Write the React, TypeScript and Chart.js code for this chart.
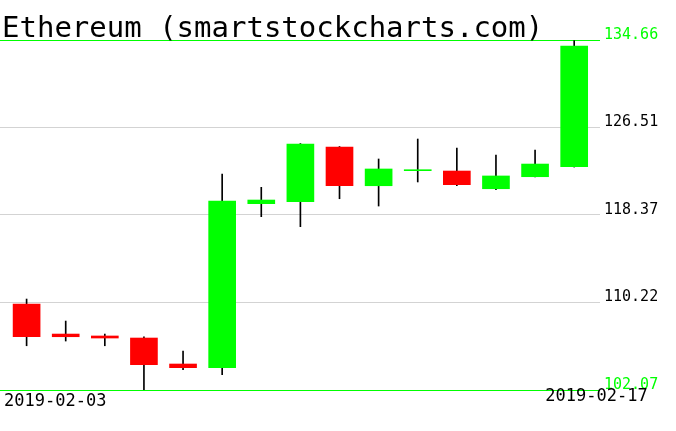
import React, { useEffect, useRef } from "react";
import { Chart, registerables } from "chart.js";

Chart.register(...registerables);

const TITLE = "Ethereum (smartstockcharts.com)";
const dates = [
  "2019-02-03", "2019-02-04", "2019-02-05", "2019-02-06", "2019-02-07",
  "2019-02-08", "2019-02-09", "2019-02-10", "2019-02-11", "2019-02-12",
  "2019-02-13", "2019-02-14", "2019-02-15", "2019-02-16", "2019-02-17",
];
const opens = [110.08, 107.28, 107.1, 106.91, 104.49, 104.15, 119.42, 119.6, 124.7, 121.09, 122.49, 122.46, 120.81, 121.93, 122.86];
const highs = [110.54, 108.49, 107.28, 107.01, 105.7, 122.18, 120.94, 125.02, 124.74, 123.58, 125.44, 124.6, 123.95, 124.42, 134.6];
const lows = [106.19, 106.63, 106.19, 102.07, 103.96, 103.49, 118.21, 117.28, 119.88, 119.2, 121.44, 121.09, 120.72, 121.9, 122.83];
const closes = [107.03, 107.03, 106.91, 104.43, 104.15, 119.67, 119.76, 124.98, 121.09, 122.65, 122.55, 121.19, 122.0, 123.11, 134.1];
const yTicks = [102.07, 110.22, 118.37, 126.51, 134.66];

const GREEN = "#00ff00";
const RED = "#ff0000";
const GRID = "#d3d3d3";
const MONO = "'DejaVu Sans Mono'";

const textPlugin = {
  id: "textPlugin",
  afterDraw(chart: any) {
    const ctx = chart.ctx;
    const xs = chart.scales.x;
    const area = chart.chartArea;
    ctx.save();
    ctx.fillStyle = "#000";
    ctx.textBaseline = "alphabetic";
    ctx.font = `29px ${MONO}`;
    ctx.textAlign = "left";
    ctx.fillText(TITLE, area.left + 2, area.top - 3);
    ctx.font = `17px ${MONO}`;
    ctx.textAlign = "left";
    ctx.fillText(dates[0], xs.getPixelForValue(0) - 22.5, area.bottom + 16);
    ctx.textAlign = "right";
    ctx.fillText(dates[dates.length - 1], xs.getPixelForValue(dates.length - 1) + 73.5, area.bottom + 11);
    ctx.restore();
  },
};

export default function App() {
  const ref = useRef<HTMLCanvasElement | null>(null);
  useEffect(() => {
    document.body.style.margin = "0";
    const canvas = ref.current;
    if (!canvas) return;
    const yMin = yTicks[0];
    const yMax = yTicks[yTicks.length - 1];
    const isEdge = (v: number) => Math.abs(v - yMin) < 1e-6 || Math.abs(v - yMax) < 1e-6;
    const colors = opens.map((o, i) => (closes[i] >= o ? GREEN : RED));
    const chart = new Chart(canvas, {
      type: "bar",
      data: {
        datasets: [
          {
            label: "body",
            data: opens.map((o, i) => ({ x: i, y: [o, closes[i]] })) as any,
            backgroundColor: colors,
            barThickness: 27,
            minBarLength: 1,
            grouped: false,
            order: 0,
            borderWidth: 0,
          } as any,
          {
            label: "wick",
            data: lows.map((l, i) => ({ x: i, y: [l, highs[i]] })) as any,
            backgroundColor: "#000000",
            barThickness: 1,
            grouped: false,
            order: 1,
            borderWidth: 0,
          } as any,
        ],
      },
      options: {
        responsive: false,
        animation: false,
        layout: { padding: { top: 40, left: 0, right: 0, bottom: 0 } },
        plugins: {
          legend: { display: false },
          tooltip: { enabled: false },
          title: { display: false },
        },
        scales: {
          x: {
            type: "linear",
            min: -0.68,
            max: 14.66,
            offset: false,
            grid: { display: false },
            border: { display: false },
            ticks: { display: false },
            afterFit: (s: any) => {
              s.height = 41;
            },
          },
          y: {
            type: "linear",
            position: "right",
            min: yMin,
            max: yMax,
            afterBuildTicks: (s: any) => {
              s.ticks = yTicks.map((v) => ({ value: v }));
            },
            afterFit: (s: any) => {
              s.width = 76;
            },
            border: { display: false },
            grid: {
              drawTicks: false,
              lineWidth: 1,
              color: (c: any) => (c.tick && isEdge(c.tick.value) ? GREEN : GRID),
            },
            ticks: {
              padding: 4,
              labelOffset: -5,
              font: { family: "DejaVu Sans Mono", size: 15 },
              color: (c: any) => (c.tick && isEdge(c.tick.value) ? GREEN : "#000000"),
              callback: (v: any) => Number(v).toFixed(2),
            },
          },
        },
      } as any,
      plugins: [textPlugin],
    });
    return () => chart.destroy();
  }, []);
  return (
    <div style={{ position: "absolute", left: 0, top: 0, width: 676, height: 431, background: "#fff" }}>
      <canvas ref={ref} width={676} height={431} style={{ display: "block" }} />
    </div>
  );
}
